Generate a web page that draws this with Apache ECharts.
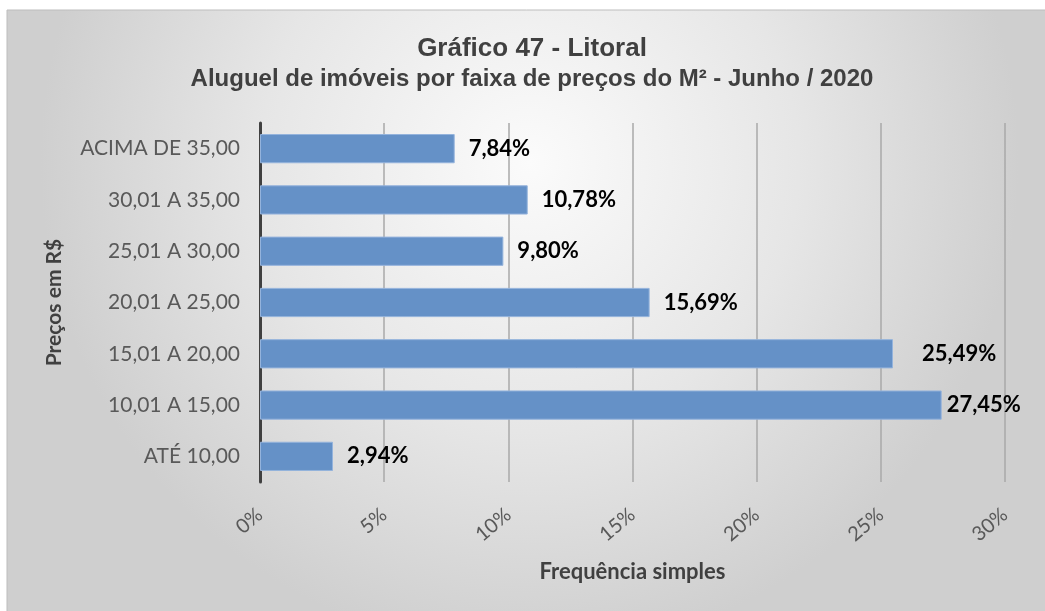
<!DOCTYPE html>
<html>
<head>
<meta charset="utf-8">
<script src="https://cdn.jsdelivr.net/npm/echarts@6/dist/echarts.min.js"></script>
<style>
  html, body { margin: 0; padding: 0; background: #ffffff; }
  #chart { width: 1045px; height: 611px; }
</style>
</head>
<body>
<div id="chart"></div>
<script>
// Price bands (R$ per m²), listed bottom to top as drawn on the category axis
const categories = [
  'ATÉ 10,00',
  '10,01 A 15,00',
  '15,01 A 20,00',
  '20,01 A 25,00',
  '25,01 A 30,00',
  '30,01 A 35,00',
  'ACIMA DE 35,00'
];
// Share of rentals in each band (%)
const values = [2.94, 27.45, 25.49, 15.69, 9.80, 10.78, 7.84];
// Gap between bar end and its value label, per band
const labelGaps = [14, 5, 29, 14, 14, 14, 14];

const titleText = 'Gráfico 47 - Litoral';
const subtitleText = 'Aluguel de imóveis por faixa de preços do M² - Junho / 2020';
const xAxisName = 'Frequência simples';
const yAxisName = 'Preços em R$';

const chart = echarts.init(document.getElementById('chart'), null, { renderer: 'canvas' });

const heading = '"Liberation Sans", Arial, sans-serif';
const body = 'Lato, "Open Sans", "Noto Sans", sans-serif';

chart.setOption({
  backgroundColor: '#ffffff',
  animation: false,
  graphic: [{
    type: 'rect',
    z: -10,
    silent: true,
    shape: { x: 7, y: 10, width: 1045, height: 611 },
    style: {
      fill: new echarts.graphic.RadialGradient(0.5, 0.25, 0.8, [
        { offset: 0, color: '#fbfbfb' },
        { offset: 0.55, color: '#e6e6e6' },
        { offset: 1, color: '#cfcfcf' }
      ]),
      stroke: '#bdbdbd',
      lineWidth: 1
    }
  }],
  title: [{
    text: titleText,
    left: 532,
    textAlign: 'center',
    top: 36,
    padding: 0,
    textStyle: { fontFamily: heading, fontSize: 26, fontWeight: 'bold', color: '#404040' }
  }, {
    text: subtitleText,
    left: 532,
    textAlign: 'center',
    top: 67,
    padding: 0,
    textStyle: { fontFamily: heading, fontSize: 24, fontWeight: 'bold', color: '#404040' }
  }],
  grid: { left: 260, right: 40, top: 123, bottom: 129, containLabel: false },
  xAxis: {
    type: 'value',
    min: 0,
    max: 30,
    interval: 5,
    name: xAxisName,
    nameLocation: 'middle',
    nameGap: 79,
    nameTextStyle: { fontFamily: body, fontSize: 22, fontWeight: 'bold', color: '#404040' },
    axisLine: { show: false },
    axisTick: { show: false },
    axisLabel: {
      rotate: 40,
      margin: 30,
      fontFamily: body,
      fontSize: 20,
      color: '#595959',
      formatter: v => v + '%'
    },
    splitLine: { show: true, lineStyle: { color: '#a9a9a9', width: 1.5 } }
  },
  yAxis: {
    type: 'category',
    data: categories,
    name: yAxisName,
    nameLocation: 'middle',
    nameGap: 195,
    nameRotate: 90,
    nameTextStyle: { fontFamily: body, fontSize: 21, fontWeight: 'bold', color: '#404040' },
    axisLine: { show: true, lineStyle: { color: '#404040', width: 3 } },
    axisTick: { show: false },
    axisLabel: { margin: 20, fontFamily: body, fontSize: 21, color: '#595959' },
    splitLine: { show: false }
  },
  series: [{
    type: 'bar',
    barCategoryGap: '43%',
    data: values.map((v, i) => ({
      value: v,
      label: { distance: labelGaps[i] }
    })),
    itemStyle: { color: '#6591c7', borderColor: '#94b3dc', borderWidth: 1 },
    label: {
      show: true,
      position: 'right',
      fontFamily: body,
      fontSize: 22,
      fontWeight: 'bold',
      color: '#000000',
      formatter: p => p.value.toFixed(2).replace('.', ',') + '%'
    }
  }]
});
</script>
</body>
</html>
